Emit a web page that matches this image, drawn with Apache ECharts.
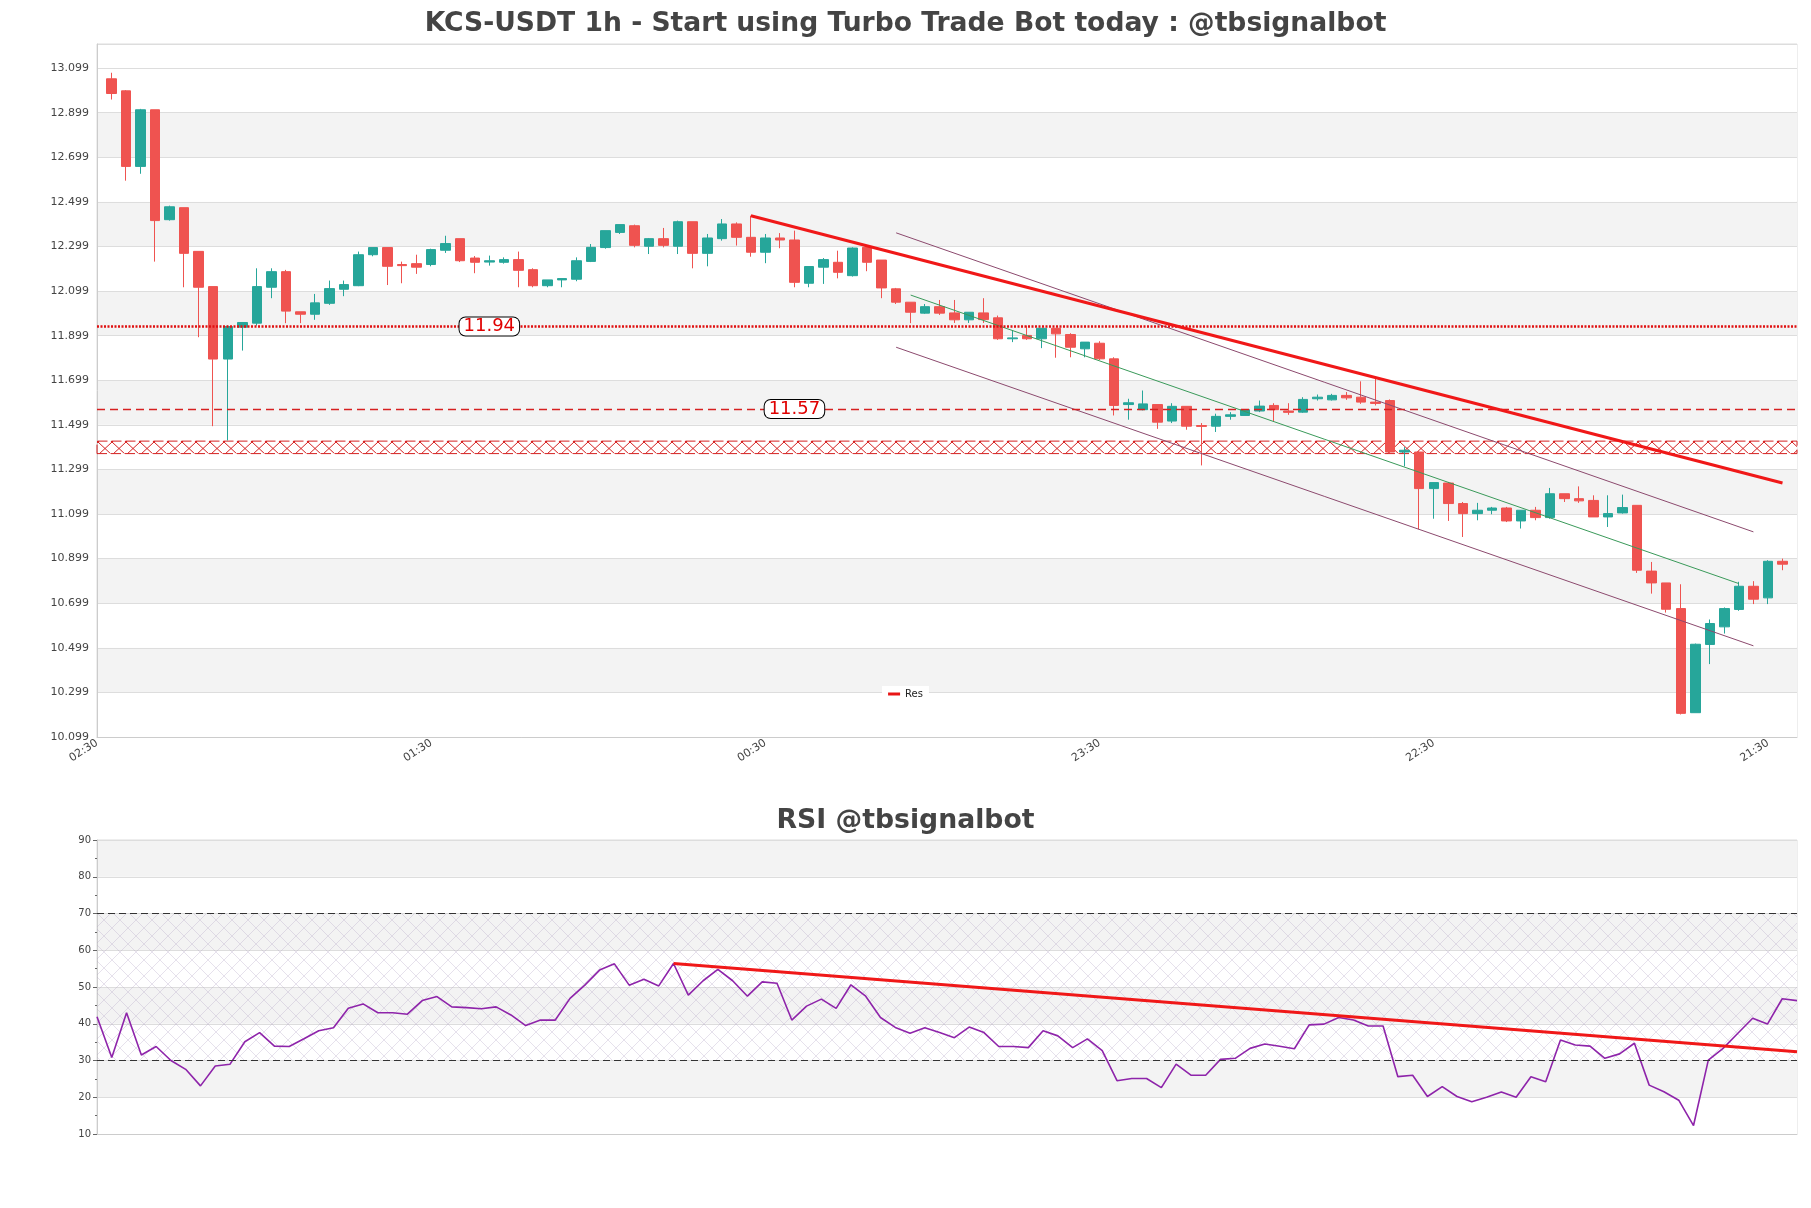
<!DOCTYPE html>
<html>
<head>
<meta charset="UTF-8">
<title>KCS-USDT 1h</title>
<script src="https://cdn.jsdelivr.net/npm/echarts@6/dist/echarts.min.js"></script>
<style>
  html, body { margin: 0; padding: 0; background: #fff; }
  #chart { width: 1811px; height: 1208px; }
</style>
</head>
<body>
<div id="chart"></div>
<script>
// time labels under the price panel, one every 23 candles
var tickLabels = ['02:30', '01:30', '00:30', '23:30', '22:30', '21:30'];
var tickStep = 23;

// 116 hourly candles
var opens = [13.051,12.997,12.658,12.912,12.419,12.473,12.277,12.119,11.794,11.937,
  11.955,12.116,12.186,12.006,11.995,12.044,12.107,12.123,12.262,12.294,
  12.218,12.222,12.218,12.282,12.334,12.247,12.229,12.228,12.240,12.195,
  12.123,12.149,12.152,12.232,12.294,12.362,12.392,12.300,12.334,12.300,
  12.410,12.268,12.334,12.400,12.340,12.273,12.337,12.328,12.134,12.206,
  12.228,12.168,12.295,12.238,12.109,12.049,12.000,12.029,12.001,11.970,
  12.001,11.979,11.885,11.900,11.885,11.932,11.904,11.840,11.865,11.795,
  11.590,11.567,11.590,11.516,11.582,11.496,11.493,11.537,11.541,11.561,
  11.586,11.561,11.556,11.616,11.611,11.631,11.623,11.601,11.608,11.377,
  11.377,11.213,11.238,11.146,11.101,11.116,11.126,11.068,11.116,11.083,
  11.190,11.168,11.160,11.086,11.104,11.138,10.843,10.790,10.675,10.208,
  10.514,10.593,10.671,10.775,10.723,10.887];
var closes = [12.985,12.658,12.912,12.415,12.477,12.268,12.116,11.794,11.940,11.958,
  12.119,12.186,12.009,11.995,12.046,12.110,12.128,12.262,12.294,12.210,
  12.213,12.206,12.285,12.312,12.235,12.228,12.235,12.240,12.192,12.123,
  12.149,12.155,12.235,12.295,12.370,12.397,12.304,12.334,12.304,12.410,
  12.268,12.337,12.400,12.340,12.273,12.337,12.328,12.138,12.209,12.240,
  12.183,12.292,12.228,12.113,12.049,12.004,12.029,12.000,11.970,12.004,
  11.971,11.885,11.889,11.885,11.932,11.907,11.847,11.870,11.795,11.586,
  11.598,11.593,11.511,11.582,11.493,11.492,11.537,11.544,11.567,11.583,
  11.567,11.555,11.613,11.623,11.631,11.620,11.601,11.595,11.377,11.385,
  11.213,11.240,11.146,11.101,11.116,11.126,11.068,11.116,11.083,11.190,
  11.168,11.158,11.086,11.101,11.128,10.847,10.790,10.672,10.205,10.515,
  10.608,10.675,10.775,10.717,10.887,10.874];
var lows = [12.958,12.594,12.625,12.231,12.415,12.116,11.892,11.493,11.429,11.832,
  11.944,12.067,11.955,11.955,11.970,12.037,12.076,12.121,12.255,12.126,
  12.134,12.176,12.210,12.270,12.229,12.179,12.213,12.222,12.116,12.116,
  12.116,12.116,12.143,12.229,12.289,12.355,12.295,12.265,12.295,12.265,
  12.201,12.210,12.325,12.303,12.253,12.224,12.291,12.116,12.116,12.131,
  12.156,12.164,12.188,12.067,12.041,11.955,11.997,11.992,11.956,11.956,
  11.956,11.880,11.870,11.880,11.843,11.800,11.802,11.802,11.790,11.541,
  11.522,11.564,11.481,11.507,11.477,11.317,11.467,11.522,11.541,11.556,
  11.516,11.544,11.553,11.608,11.608,11.611,11.593,11.586,11.373,11.313,
  11.031,11.078,11.068,10.996,11.071,11.098,11.063,11.034,11.071,11.078,
  11.153,11.149,11.086,11.041,11.101,10.835,10.742,10.657,10.200,10.208,
  10.426,10.563,10.665,10.695,10.695,10.847];
var highs = [13.078,13.000,12.916,12.912,12.482,12.473,12.277,12.119,11.944,11.958,
  12.201,12.201,12.194,12.006,12.086,12.146,12.146,12.276,12.294,12.294,
  12.231,12.262,12.289,12.347,12.334,12.256,12.258,12.250,12.276,12.201,
  12.149,12.155,12.250,12.310,12.370,12.397,12.397,12.337,12.382,12.415,
  12.410,12.355,12.422,12.407,12.437,12.355,12.359,12.370,12.209,12.247,
  12.280,12.295,12.303,12.238,12.113,12.049,12.041,12.059,12.059,12.004,
  12.067,11.989,11.922,11.944,11.932,11.932,11.910,11.870,11.874,11.802,
  11.616,11.653,11.590,11.596,11.582,11.507,11.549,11.556,11.567,11.608,
  11.596,11.596,11.623,11.635,11.638,11.646,11.694,11.708,11.613,11.399,
  11.381,11.240,11.243,11.153,11.149,11.131,11.131,11.116,11.131,11.216,
  11.190,11.223,11.183,11.183,11.186,11.138,10.884,10.790,10.784,10.518,
  10.626,10.680,10.795,10.798,10.892,10.899];

// RSI, one value per candle
var rsi = [41.9,30.8,43.0,31.5,33.8,30.0,27.6,23.1,28.5,29.0,
  35.1,37.6,33.9,33.8,35.9,38.1,38.9,44.2,45.4,43.0,
  43.0,42.6,46.3,47.4,44.6,44.4,44.1,44.6,42.4,39.5,
  41.0,41.0,46.9,50.5,54.6,56.3,50.5,52.1,50.3,56.4,
  47.8,51.7,54.8,51.7,47.5,51.4,51.0,41.0,44.8,46.7,
  44.2,50.6,47.5,41.7,39.0,37.4,38.9,37.6,36.2,39.1,
  37.6,33.8,33.8,33.5,38.1,36.7,33.5,35.9,32.7,24.5,
  25.1,25.1,22.6,29.0,26.0,26.0,30.3,30.6,33.3,34.5,
  33.9,33.2,39.7,39.9,41.7,41.0,39.4,39.4,25.6,26.0,
  20.2,22.9,20.2,18.8,20.0,21.4,20.0,25.6,24.2,35.6,
  34.2,33.9,30.6,31.8,34.7,23.3,21.5,19.2,12.3,30.1,
  33.3,37.4,41.5,39.9,46.8,46.3];

// drawn lines: [slot, price] end points
var resLine = [[45, 12.437], [116, 11.238]];
var chanUpper = [[55, 12.360], [114, 11.019]];
var chanLower = [[55, 11.847], [114, 10.508]];
var chanMid = [[56, 12.081], [113, 10.787]];
var levelDotted = 11.94;
var levelDashed = 11.57;
var zone = [11.370, 11.426];
var rsiTrend = [[39, 56.4], [115, 32.4]];
var rsiLevels = [30, 70];

var slotCount = opens.length + 2;   // one empty slot at each end
var slots = [];
for (var i = 0; i < slotCount; i++) slots.push(String(i));
var rsiCats = [];
for (var i = 0; i < rsi.length; i++) rsiCats.push(String(i));

var candleData = opens.map(function (o, i) {
  return [i + 1, o, closes[i], lows[i], highs[i]];
});

// band colours, bottom up; the thin band above the last tick stays white
var bandColors = [];
for (var k = 0; k < 16; k++) bandColors.push(k % 2 ? '#f3f3f3' : '#ffffff');
bandColors[15] = '#ffffff';

function hatch(w, h, color, lw) {
  var c = document.createElement('canvas');
  c.width = w; c.height = h;
  var g = c.getContext('2d');
  g.strokeStyle = color;
  g.lineWidth = lw;
  g.beginPath();
  g.moveTo(0, 0); g.lineTo(w, h);
  g.moveTo(w, 0); g.lineTo(0, h);
  g.stroke();
  return c;
}

var font = 'DejaVu Sans';
var chart = echarts.init(document.getElementById('chart'));

var option = {
  animation: false,
  backgroundColor: '#fff',
  title: [{
    text: 'KCS-USDT 1h - Start using Turbo Trade Bot today : @tbsignalbot',
    left: 'center', top: 6,
    textStyle: { fontFamily: font, fontWeight: 'bold', fontSize: 26.6, color: '#444' }
  }, {
    text: 'RSI @tbsignalbot',
    left: 'center', top: 803,
    textStyle: { fontFamily: font, fontWeight: 'bold', fontSize: 26.7, color: '#444' }
  }],
  legend: {
    data: [{ name: 'Res', icon: 'rect' }],
    left: 'center', top: 686,
    itemWidth: 12, itemHeight: 3,
    backgroundColor: '#fff',
    padding: [3, 6],
    textStyle: { fontFamily: font, fontSize: 10, color: '#222' }
  },
  grid: [
    { left: 97, top: 44, width: 1700, height: 693, show: true, borderColor: '#ddd', borderWidth: 1 },
    { left: 97, top: 840, width: 1700, height: 294, show: true, borderColor: '#ddd', borderWidth: 1 }
  ],
  xAxis: [{
    type: 'category', gridIndex: 0, data: slots, boundaryGap: false,
    axisLine: { lineStyle: { color: '#ccc' } },
    axisTick: { show: false },
    splitLine: { show: false },
    axisLabel: {
      interval: tickStep - 1, rotate: 33, margin: 5,
      fontFamily: font, fontSize: 11, color: '#444',
      formatter: function (v, idx) { return tickLabels[idx / tickStep] || ''; }
    }
  }, {
    type: 'category', gridIndex: 1, data: rsiCats, boundaryGap: false,
    axisLine: { lineStyle: { color: '#ccc' } },
    axisTick: { show: false },
    axisLabel: { show: false },
    splitLine: { show: false }
  }],
  yAxis: [{
    type: 'value', gridIndex: 0, min: 10.099, max: 13.207, interval: 0.2,
    axisLine: { show: true, lineStyle: { color: '#ccc' } },
    axisTick: { show: false },
    axisLabel: {
      fontFamily: font, fontSize: 11, color: '#444', showMaxLabel: false,
      formatter: function (v) { return v.toFixed(3); }
    },
    splitLine: { lineStyle: { color: '#ddd' } },
    splitArea: { show: true, areaStyle: { color: bandColors } }
  }, {
    type: 'value', gridIndex: 1, min: 10, max: 90, interval: 10,
    axisLine: { show: true, lineStyle: { color: '#ccc' } },
    axisTick: { show: true, length: 4, lineStyle: { color: '#666' } },
    minorTick: { show: true, splitNumber: 2, length: 2, lineStyle: { color: '#666' } },
    axisLabel: { fontFamily: font, fontSize: 10, color: '#444', margin: 6 },
    splitLine: { lineStyle: { color: '#ddd' } },
    splitArea: { show: true, areaStyle: { color: ['#ffffff', '#f3f3f3'] } }
  }],
  series: [{
    name: 'candles',
    type: 'candlestick',
    xAxisIndex: 0, yAxisIndex: 0,
    data: candleData,
    encode: { x: 0, y: [1, 2, 3, 4] },
    barWidth: 10,
    itemStyle: {
      color: '#26a69a', color0: '#ef5350',
      borderColor: '#26a69a', borderColor0: '#ef5350', borderWidth: 1
    },
    markLine: {
      silent: true, symbol: 'none', label: { show: false },
      data: [
        { yAxis: levelDotted, lineStyle: { type: [2, 1.5], color: '#e01010', width: 2.6 } },
        { yAxis: levelDashed, lineStyle: { type: [8, 5], color: '#d62020', width: 1.3 } }
      ]
    },
    markArea: {
      silent: true,
      itemStyle: {
        color: { image: hatch(14, 13, '#d42020', 1), repeat: 'repeat' },
        borderColor: '#d42020', borderWidth: 1, borderType: [10, 4]
      },
      data: [[{ yAxis: zone[0] }, { yAxis: zone[1] }]]
    },
    markPoint: {
      silent: true, symbol: 'rect', symbolSize: 1,
      itemStyle: { color: 'rgba(0,0,0,0)' },
      label: {
        show: true, position: 'inside', formatter: '{c}',
        fontFamily: font, fontSize: 18, color: '#e00000',
        backgroundColor: '#fff', borderColor: '#000', borderWidth: 1,
        borderRadius: 6, padding: [0, 4]
      },
      data: [
        { coord: [27, levelDotted], value: levelDotted.toFixed(2) },
        { coord: [48, levelDashed], value: levelDashed.toFixed(2) }
      ]
    },
    z: 3
  }, {
    name: 'chanUpper', type: 'line', xAxisIndex: 0, yAxisIndex: 0,
    data: chanUpper, symbol: 'none', silent: true,
    lineStyle: { color: '#8c4a6e', width: 1 }, z: 4
  }, {
    name: 'chanLower', type: 'line', xAxisIndex: 0, yAxisIndex: 0,
    data: chanLower, symbol: 'none', silent: true,
    lineStyle: { color: '#8c4a6e', width: 1 }, z: 4
  }, {
    name: 'chanMid', type: 'line', xAxisIndex: 0, yAxisIndex: 0,
    data: chanMid, symbol: 'none', silent: true,
    lineStyle: { color: '#3a9a5a', width: 1 }, z: 4
  }, {
    name: 'Res', type: 'line', xAxisIndex: 0, yAxisIndex: 0,
    data: resLine, symbol: 'none', silent: true,
    itemStyle: { color: '#e81515' },
    lineStyle: { color: '#f01818', width: 3 }, z: 5
  }, {
    name: 'RSI', type: 'line', xAxisIndex: 1, yAxisIndex: 1,
    data: rsi, symbol: 'none', silent: true,
    lineStyle: { color: '#8e24aa', width: 1.6 },
    markLine: {
      silent: true, symbol: 'none', label: { show: false },
      lineStyle: { type: [7, 4], color: '#333', width: 1.2 },
      data: [{ yAxis: rsiLevels[0] }, { yAxis: rsiLevels[1] }]
    },
    markArea: {
      silent: true,
      itemStyle: { color: { image: hatch(16, 16, 'rgba(175,160,195,0.4)', 0.8), repeat: 'repeat' } },
      data: [[{ yAxis: rsiLevels[0] }, { yAxis: rsiLevels[1] }]]
    },
    z: 4
  }, {
    name: 'rsiTrend', type: 'line', xAxisIndex: 1, yAxisIndex: 1,
    data: rsiTrend, symbol: 'none', silent: true,
    lineStyle: { color: '#f01818', width: 3 }, z: 5
  }]
};

chart.setOption(option);
</script>
</body>
</html>
